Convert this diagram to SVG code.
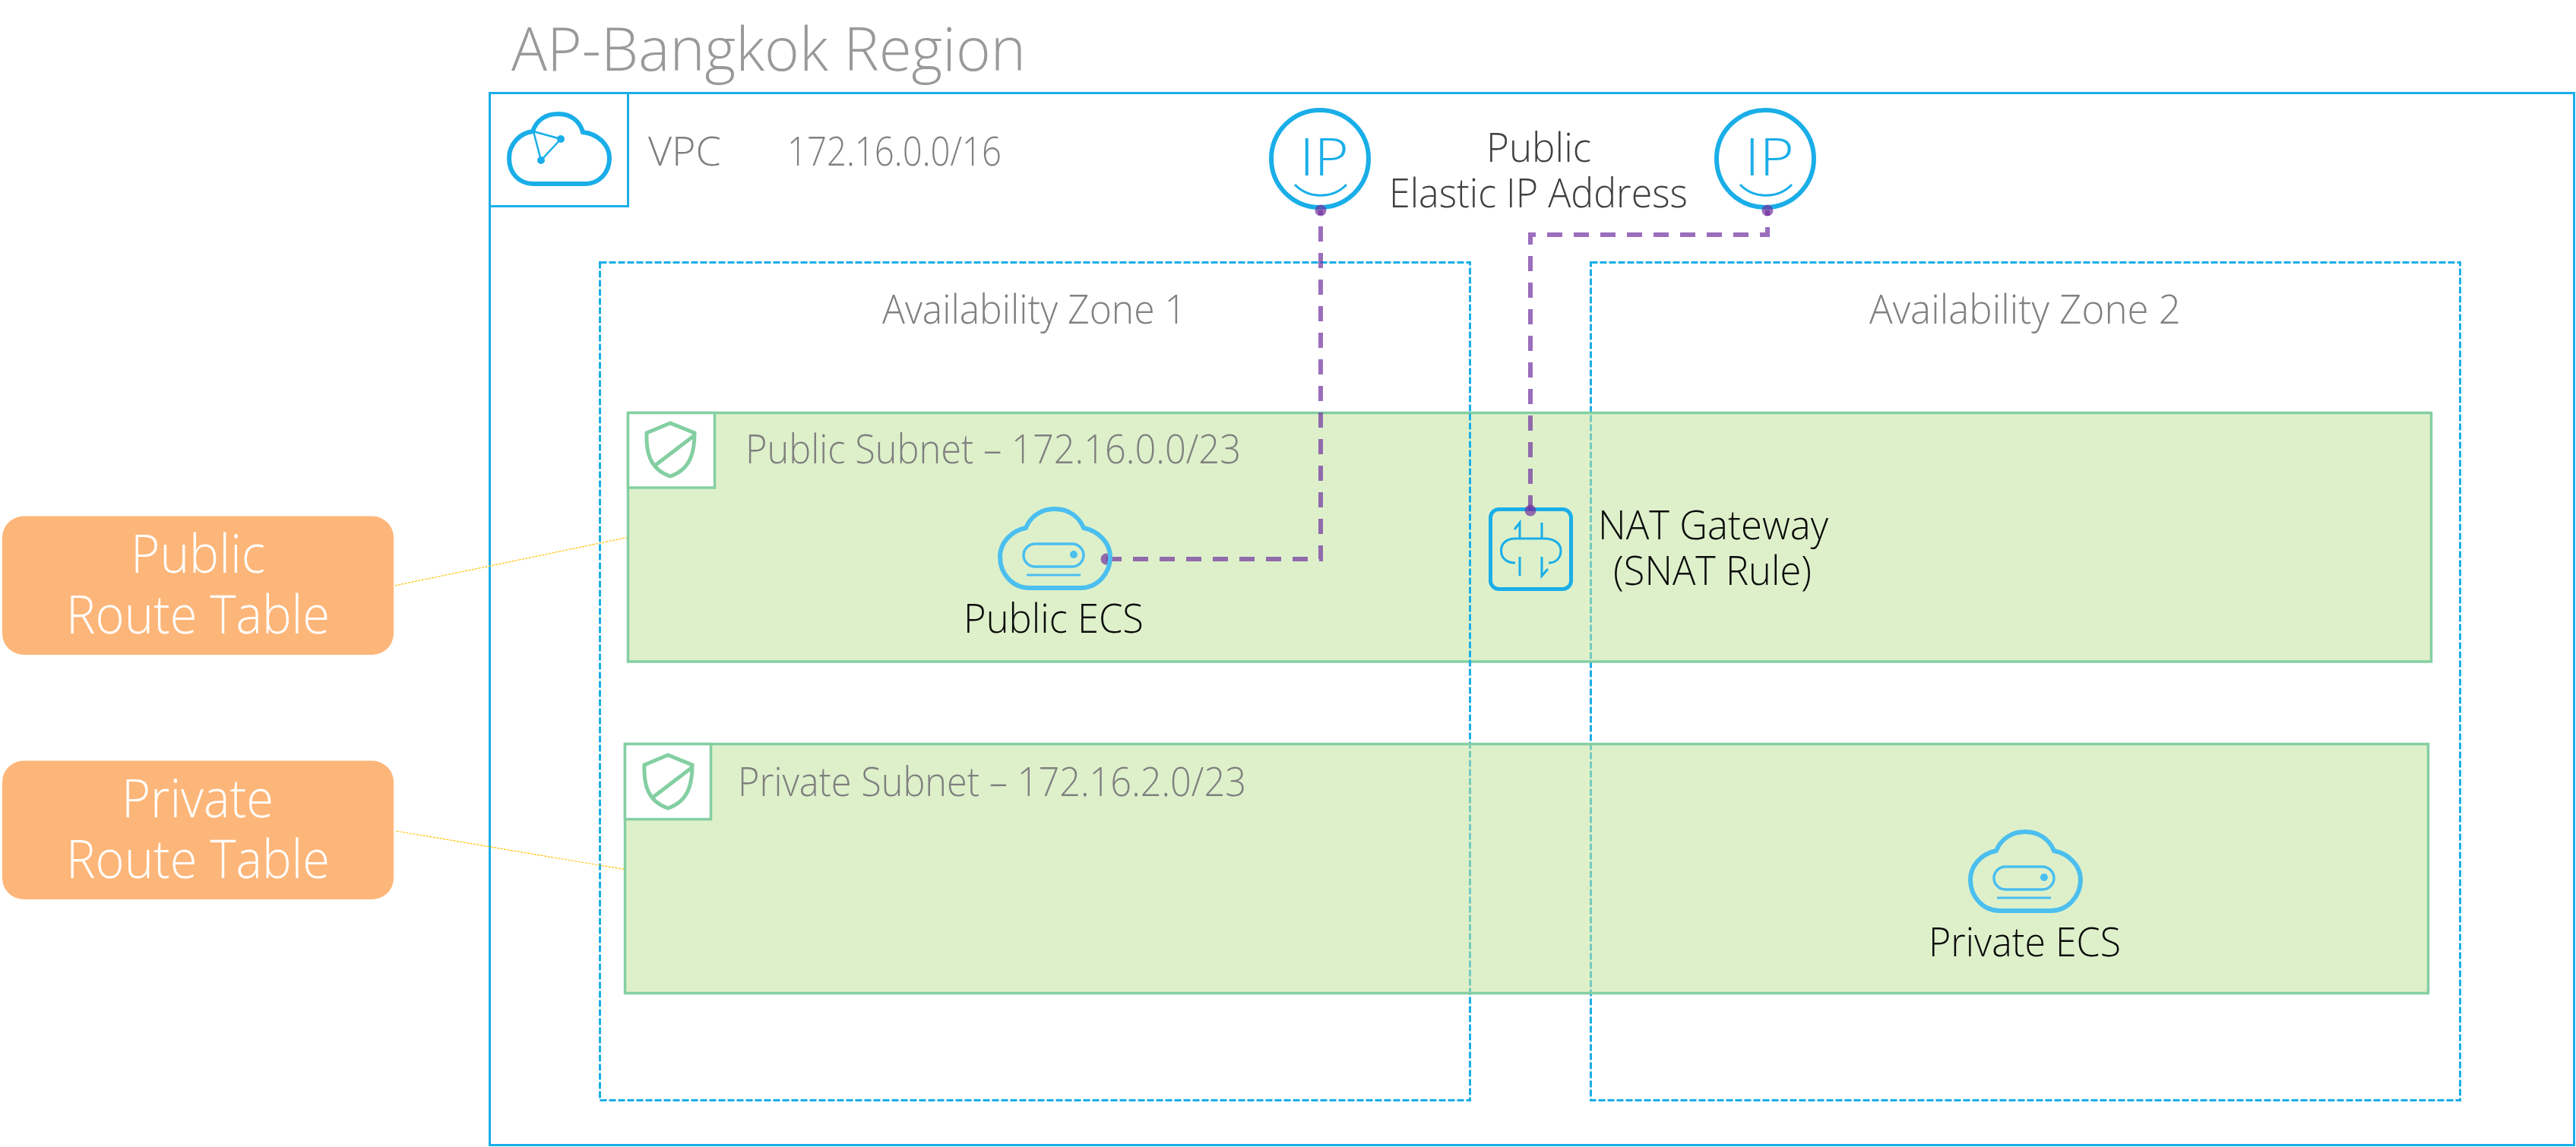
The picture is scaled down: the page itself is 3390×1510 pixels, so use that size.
<svg xmlns="http://www.w3.org/2000/svg" width="3390" height="1510" viewBox="0 0 3390 1510">
<style>
text{font-family:"Open Sans","Noto Sans","Liberation Sans",sans-serif;font-weight:300}
.t52{font-size:53px}
.grey{fill:#808080}
.sub{fill:#7f7f7f}
.dark{fill:#404040}
.blk{fill:#0a0a0a}
.wht{fill:#fff;font-size:70px}
.ip{fill:#1aaee8;font-size:68px;font-weight:300}
.zone{fill:none;stroke:#1aaee8;stroke-width:3;stroke-dasharray:9 3}
.subnet{fill:#c2e29b;fill-opacity:.533;stroke:#84cfa2;stroke-width:3.5}
.tab{fill:#fff;stroke:#84cfa2;stroke-width:3.5}
.shield{fill:none;stroke:#84cfa2;stroke-width:5}
.blue{fill:none;stroke:#1aaee8}
.ecs{fill:none;stroke:#4bbfef}
.rt{fill:#fdb679}
.link{fill:none;stroke:#ffc000;stroke-width:1.2;stroke-dasharray:3 1.5}
.eip{fill:none;stroke:#7030a0;stroke-opacity:.7;stroke-width:6;stroke-dasharray:20 15;marker-start:url(#dot);marker-end:url(#dot)}
</style>
<defs>
<marker id="dot" markerUnits="userSpaceOnUse" markerWidth="16" markerHeight="16" refX="8" refY="8" overflow="visible"><circle cx="8" cy="8" r="7.5" fill="#7030a0" fill-opacity=".7"/></marker>
<g id="shieldIcon"><path class="shield" d="M882 557L851 570C850 595 855 618 882 627C909 618 914 595 914 570Z"/><path class="shield" d="M914 573L863 612"/></g>
<g id="ecsIcon"><path class="ecs" stroke-width="6" d="M1355 774C1332 774 1316 755 1316 733C1316 715 1330 699 1350 695C1356 680 1370 670 1388 670C1406 670 1420 680 1426 695C1446 699 1461 715 1461 733C1461 755 1444 774 1422 774Z"/><rect class="ecs" stroke-width="3.5" x="1347" y="716" width="79" height="30" rx="15"/><circle cx="1413" cy="730" r="5" fill="#4bbfef"/><path class="ecs" stroke-width="3" d="M1351 757H1422"/></g>
<g id="ipIcon"><circle class="blue" stroke-width="6" cx="1737" cy="209" r="64"/><path class="blue" stroke-width="3" d="M1704 243C1722 262 1754 262 1772 243"/></g>
</defs>

<g id="region-label"><text x="673" y="93" font-size="80" fill="#999" textLength="677" lengthAdjust="spacingAndGlyphs">AP-Bangkok Region</text></g>

<g id="vpc">
<rect x="644.5" y="122.5" width="2743" height="1385" fill="none" stroke="#1aaee8" stroke-width="3"/>
<rect x="644.5" y="122.5" width="182" height="149" fill="none" stroke="#1aaee8" stroke-width="3"/>
<path class="blue" stroke-width="6" d="M702 242C683 242 670 228 670 208C670 190 684 175 701 173C706 158 718 150 735 150C752 150 763 160 767 174C786 176 802 190 802 208C802 228 788 242 770 242Z"/>
<path class="blue" stroke-width="2.5" d="M702 173L738 183L712 211Z"/>
<circle cx="738" cy="183" r="5" fill="#1aaee8"/><circle cx="712" cy="211" r="5" fill="#1aaee8"/>
<text class="t52 grey" x="853" y="218" textLength="96" lengthAdjust="spacingAndGlyphs">VPC</text>
<text class="t52 grey" x="1036" y="218" textLength="282" lengthAdjust="spacingAndGlyphs">172.16.0.0/16</text>
</g>

<g id="zone-2">
<rect class="zone" x="2093.5" y="345.5" width="1144" height="1103"/>
<text class="t52 grey" x="2460" y="426" textLength="410" lengthAdjust="spacingAndGlyphs">Availability Zone 2</text>
</g>

<g id="public-subnet">
<rect class="subnet" x="826.5" y="543.5" width="2373" height="327.5"/>
<rect class="tab" x="826.5" y="543.5" width="114" height="98.500"/>
<use href="#shieldIcon"/>
<text class="t52 sub" x="981" y="610" textLength="652" lengthAdjust="spacingAndGlyphs">Public Subnet – 172.16.0.0/23</text>
</g>

<g id="zone-1">
<rect class="zone" x="789.5" y="345.5" width="1145" height="1103"/>
<text class="t52 grey" x="1161" y="426" textLength="400" lengthAdjust="spacingAndGlyphs">Availability Zone 1</text>
</g>

<g id="private-subnet">
<rect class="subnet" x="822.5" y="979.5" width="2373" height="328"/>
<rect class="tab" x="822.5" y="979.5" width="113" height="99"/>
<use href="#shieldIcon" transform="translate(-3 437)"/>
<text class="t52 sub" x="971" y="1048" textLength="669" lengthAdjust="spacingAndGlyphs">Private Subnet – 172.16.2.0/23</text>
</g>

<g id="eip-1">
<use href="#ipIcon"/>
<text class="ip" x="1710" y="231" textLength="65" lengthAdjust="spacingAndGlyphs">IP</text>
</g>
<g id="eip-2">
<use href="#ipIcon" transform="translate(586 0)"/>
<text class="ip" x="2296" y="231" textLength="65" lengthAdjust="spacingAndGlyphs">IP</text>
</g>
<g id="eip-label">
<text class="t52 dark" x="1956" y="213" textLength="138" lengthAdjust="spacingAndGlyphs">Public</text>
<text class="t52 dark" x="1828" y="273" textLength="393" lengthAdjust="spacingAndGlyphs">Elastic IP Address</text>
</g>

<g id="nat-gateway">
<rect class="blue" stroke-width="5" x="1961.5" y="670.5" width="106" height="105" rx="11"/>
<path class="blue" stroke-width="3" d="M1994 741C1983 741 1975.500 735 1975.500 725C1975.500 715 1983 709 1994 709H2032C2045 709 2054 715 2054 725C2054 735 2047 741 2038 741M2000 709V688L1993 697M2029 688V709M2000 733V758M2029 733V758L2037 749"/>
<text class="t52 blk" x="2103" y="710" textLength="303" lengthAdjust="spacingAndGlyphs">NAT Gateway</text>
<text class="t52 blk" x="2123" y="770" textLength="261" lengthAdjust="spacingAndGlyphs">(SNAT Rule)</text>
</g>

<g id="connectors">
<path class="link" d="M519.500 771L825.500 707.500"/>
<path class="link" d="M521 1094L821.700 1144.500"/>
<path class="eip" d="M1456 736H1738V277"/>
<path class="eip" d="M2014 672V309H2326V277"/>
</g>

<g id="public-ecs">
<use href="#ecsIcon"/>
<text class="t52 blk" x="1268" y="833" textLength="237" lengthAdjust="spacingAndGlyphs">Public ECS</text>
</g>
<g id="private-ecs">
<use href="#ecsIcon" transform="translate(1277 425)"/>
<text class="t52 blk" x="2538" y="1259" textLength="253" lengthAdjust="spacingAndGlyphs">Private ECS</text>
</g>

<g id="public-route-table">
<rect class="rt" x="3" y="679.5" width="515" height="182.5" rx="28"/>
<text class="wht" x="172" y="754" textLength="177" lengthAdjust="spacingAndGlyphs">Public</text>
<text class="wht" x="87" y="834" textLength="347" lengthAdjust="spacingAndGlyphs">Route Table</text>
</g>
<g id="private-route-table">
<rect class="rt" x="3" y="1001.5" width="515" height="182.5" rx="28"/>
<text class="wht" x="160" y="1076" textLength="200" lengthAdjust="spacingAndGlyphs">Private</text>
<text class="wht" x="87" y="1156" textLength="347" lengthAdjust="spacingAndGlyphs">Route Table</text>
</g>
</svg>
